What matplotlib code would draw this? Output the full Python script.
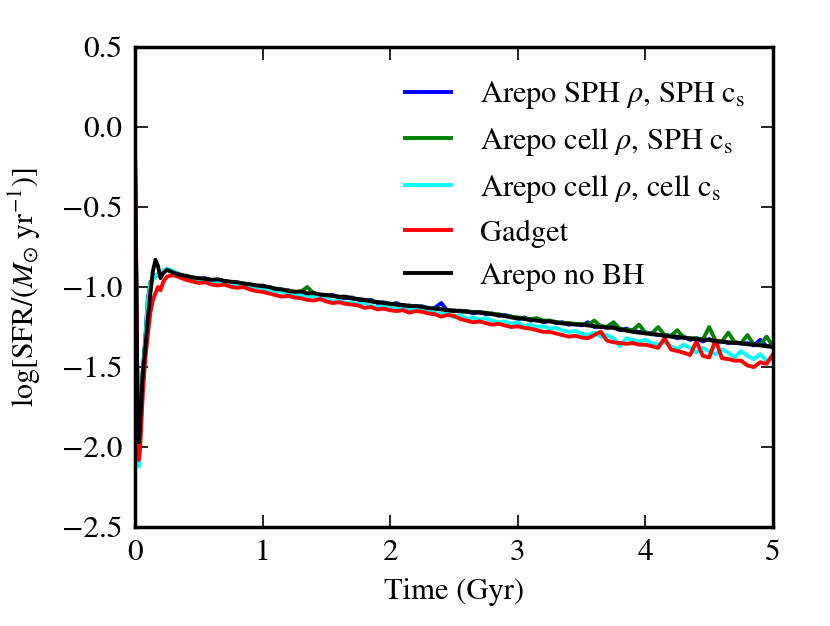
import numpy as np
import matplotlib
matplotlib.use("Agg")
import matplotlib.pyplot as plt

plt.rcParams['font.family'] = ['STIXGeneral', 'DejaVu Serif']
plt.rcParams['mathtext.fontset'] = 'stix'

# time grid (Gyr): fine sampling for the initial burst, then every 0.05 Gyr
t_early = [0.0, 0.01, 0.02, 0.03, 0.04, 0.06, 0.08, 0.10, 0.12, 0.14,
           0.16, 0.18, 0.20, 0.22, 0.25, 0.30]
t_late = [round(0.35 + 0.05 * i, 2) for i in range(94)]
time = t_early + t_late

black_early = [-0.25, -1.0, -1.8, -1.97, -1.85, -1.55, -1.38, -1.2, -1.04, -0.9,
               -0.83, -0.87, -0.945, -0.915, -0.893, -0.91]
black_late = [
    -0.925, -0.93, -0.94, -0.945, -0.948, -0.955, -0.952, -0.962, -0.967, -0.97,
    -0.978, -0.983, -0.99, -0.995, -1.0, -1.012, -1.015, -1.025, -1.03, -1.028,
    -1.04, -1.038, -1.047, -1.05, -1.055, -1.062, -1.06, -1.072, -1.075, -1.082,
    -1.09, -1.095, -1.1, -1.105, -1.11, -1.112, -1.12, -1.118, -1.125, -1.132,
    -1.135, -1.14, -1.145, -1.15, -1.148, -1.155, -1.158, -1.16, -1.163, -1.17,
    -1.175, -1.182, -1.19, -1.195, -1.2, -1.205, -1.21, -1.215, -1.215, -1.222,
    -1.228, -1.23, -1.235, -1.235, -1.24, -1.245, -1.25, -1.252, -1.255, -1.265,
    -1.272, -1.28, -1.285, -1.29, -1.295, -1.298, -1.305, -1.31, -1.31, -1.318,
    -1.322, -1.325, -1.33, -1.33, -1.338, -1.342, -1.345, -1.35, -1.35, -1.358,
    -1.36, -1.365, -1.37, -1.375]

red_early = [-0.12, -0.9, -1.7, -2.08, -2.0, -1.68, -1.45, -1.3, -1.16, -1.08,
             -1.04, -1.0, -1.02, -0.97, -0.935, -0.925]
red_late = [
    -0.94, -0.955, -0.965, -0.975, -0.97, -0.985, -0.99, -0.985, -0.998, -1.005,
    -1.0, -1.015, -1.025, -1.03, -1.04, -1.05, -1.06, -1.055, -1.065, -1.07,
    -1.08, -1.085, -1.075, -1.09, -1.1, -1.095, -1.105, -1.11, -1.115, -1.13,
    -1.125, -1.14, -1.135, -1.145, -1.15, -1.145, -1.16, -1.15, -1.155, -1.165,
    -1.17, -1.185, -1.175, -1.18, -1.2, -1.21, -1.22, -1.215, -1.225, -1.235,
    -1.23, -1.24, -1.25, -1.245, -1.255, -1.26, -1.27, -1.28, -1.28, -1.29,
    -1.3, -1.31, -1.305, -1.315, -1.32, -1.3, -1.28, -1.335, -1.345, -1.35,
    -1.355, -1.35, -1.36, -1.36, -1.37, -1.38, -1.32, -1.39, -1.4, -1.41,
    -1.425, -1.34, -1.43, -1.44, -1.33, -1.445, -1.45, -1.46, -1.46, -1.49,
    -1.5, -1.47, -1.48, -1.42]

cyan_early = [-0.2, -1.0, -1.8, -2.12, -1.95, -1.55, -1.35, -1.1, -0.98, -0.95,
              -0.93, -0.92, -0.92, -0.9, -0.885, -0.9]
cyan_late = [
    -0.93, -0.94, -0.945, -0.955, -0.96, -0.965, -0.962, -0.975, -0.98, -0.985,
    -0.99, -0.995, -1.0, -1.01, -1.015, -1.025, -1.03, -1.04, -1.045, -1.05,
    -1.055, -1.06, -1.07, -1.075, -1.09, -1.085, -1.1, -1.095, -1.11, -1.1,
    -1.12, -1.125, -1.115, -1.13, -1.135, -1.14, -1.145, -1.12, -1.15, -1.155,
    -1.16, -1.17, -1.165, -1.19, -1.175, -1.2, -1.19, -1.205, -1.195, -1.21,
    -1.22, -1.215, -1.23, -1.22, -1.245, -1.235, -1.25, -1.245, -1.26, -1.255,
    -1.27, -1.28, -1.275, -1.29, -1.3, -1.285, -1.31, -1.3, -1.32, -1.37,
    -1.32, -1.33, -1.34, -1.33, -1.35, -1.36, -1.34, -1.37, -1.39, -1.36,
    -1.38, -1.41, -1.38, -1.4, -1.42, -1.39, -1.41, -1.44, -1.4, -1.43,
    -1.45, -1.42, -1.46, -1.45]

blue_early = [-0.2, -1.0, -1.8, -2.08, -1.93, -1.53, -1.33, -1.08, -0.98, -0.94,
              -0.93, -0.92, -0.92, -0.905, -0.89, -0.905]
blue_late = [
    -0.92, -0.935, -0.94, -0.95, -0.945, -0.96, -0.955, -0.965, -0.97, -0.975,
    -0.98, -0.985, -0.995, -0.99, -1.005, -1.01, -1.02, -1.02, -1.035, -1.03,
    -1.045, -1.04, -1.05, -1.055, -1.05, -1.065, -1.07, -1.065, -1.08, -1.085,
    -1.08, -1.1, -1.095, -1.11, -1.1, -1.12, -1.115, -1.125, -1.12, -1.135,
    -1.13, -1.1, -1.15, -1.145, -1.155, -1.15, -1.165, -1.155, -1.17, -1.165,
    -1.18, -1.175, -1.185, -1.2, -1.19, -1.21, -1.2, -1.22, -1.21, -1.225,
    -1.22, -1.235, -1.23, -1.24, -1.22, -1.25, -1.245, -1.255, -1.25, -1.27,
    -1.26, -1.275, -1.28, -1.285, -1.29, -1.3, -1.3, -1.305, -1.32, -1.31,
    -1.33, -1.32, -1.34, -1.325, -1.345, -1.34, -1.35, -1.345, -1.355, -1.35,
    -1.365, -1.33, -1.37, -1.36]

green_early = [-0.2, -1.0, -1.8, -2.1, -1.94, -1.54, -1.34, -1.09, -0.97, -0.95,
               -0.93, -0.925, -0.92, -0.9, -0.89, -0.905]
green_late = [
    -0.925, -0.932, -0.94, -0.946, -0.95, -0.955, -0.955, -0.963, -0.968, -0.972,
    -0.978, -0.984, -0.99, -0.995, -1.0, -1.01, -1.015, -1.022, -1.03, -1.03,
    -1.0, -1.04, -1.048, -1.05, -1.056, -1.06, -1.062, -1.07, -1.076, -1.08,
    -1.088, -1.094, -1.1, -1.104, -1.11, -1.113, -1.118, -1.12, -1.124, -1.13,
    -1.133, -1.138, -1.143, -1.148, -1.15, -1.152, -1.156, -1.158, -1.16, -1.168,
    -1.17, -1.18, -1.185, -1.19, -1.195, -1.2, -1.195, -1.21, -1.21, -1.218,
    -1.225, -1.225, -1.23, -1.232, -1.235, -1.21, -1.245, -1.248, -1.22, -1.26,
    -1.268, -1.27, -1.235, -1.285, -1.29, -1.25, -1.3, -1.305, -1.27, -1.315,
    -1.32, -1.32, -1.33, -1.25, -1.335, -1.34, -1.285, -1.345, -1.35, -1.3,
    -1.36, -1.36, -1.31, -1.37]

series = [
    (blue_early + blue_late, '#0000ff', r'Arepo SPH $\rho$, SPH c$_{\rm s}$'),
    (green_early + green_late, '#008000', r'Arepo cell $\rho$, SPH c$_{\rm s}$'),
    (cyan_early + cyan_late, '#00ffff', r'Arepo cell $\rho$, cell c$_{\rm s}$'),
    (red_early + red_late, '#ff0000', 'Gadget'),
    (black_early + black_late, '#000000', 'Arepo no BH'),
]

fig = plt.figure(figsize=(8.3, 6.26), dpi=100)
ax = fig.add_axes([0.1627, 0.158, 0.7686, 0.767])
for vals, col, lab in series:
    ax.plot(time, vals, color=col, lw=2.8, label=lab)

ax.set_xlim(0, 5)
ax.set_ylim(-2.5, 0.5)
ax.set_xticks([0, 1, 2, 3, 4, 5])
ax.set_yticks(np.arange(-2.5, 0.51, 0.5))
ax.set_yticklabels(['\u22122.5', '\u22122.0', '\u22121.5', '\u22121.0',
                    '\u22120.5', '0.0', '0.5'])
ax.tick_params(direction='in', top=True, right=True, length=9, width=1.2,
               labelsize=22.5, pad=9)
for sp in ax.spines.values():
    sp.set_linewidth(2.5)

ax.set_xlabel('Time (Gyr)', fontsize=22, labelpad=8)
ax.set_ylabel(r'$\log[{\rm SFR}/(M_{\odot}\ {\rm yr}^{-1})]$', fontsize=21.5,
              labelpad=14)

leg = ax.legend(loc='upper right', bbox_to_anchor=(1.0, 0.99), frameon=False,
                fontsize=22, handlelength=1.5, handletextpad=0.95,
                labelspacing=0.48)

fig.savefig('out.png', dpi=100)
